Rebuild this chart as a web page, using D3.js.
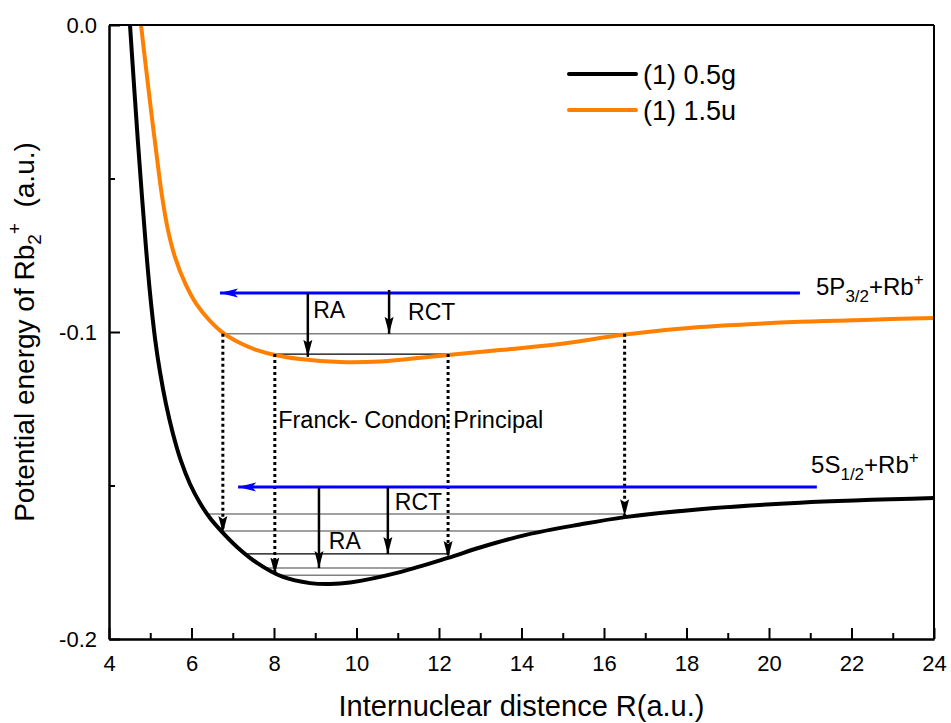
<!DOCTYPE html>
<html>
<head>
<meta charset="utf-8">
<script src="https://cdn.jsdelivr.net/npm/d3@7"></script>
<style>
body{margin:0;background:#fff;}
text{font-family:"Liberation Sans",Arial,sans-serif;fill:#000;}
</style>
</head>
<body>
<div id="container"></div>
<script>
let w = 951;
let h = 723;
let mLeft = 109, mRight = 17, mTop = 25, mBottom = 84;

// (1) 0.5g curve
let blackR = [4.509, 4.606, 4.703, 4.800, 4.897, 4.994, 5.115, 5.236, 5.382, 5.552, 5.745, 5.964, 6.206, 6.448, 6.739, 7.103, 7.588, 8.218, 8.873, 9.358, 9.842, 11.055, 12.218, 12.994, 14.133, 15.418, 16.509, 18.327, 20.752, 24.0];
let blackE = [0, -0.0195, -0.0384, -0.0560, -0.0726, -0.0873, -0.1020, -0.1130, -0.1235, -0.1332, -0.1420, -0.1495, -0.1557, -0.1606, -0.1651, -0.1700, -0.1752, -0.1798, -0.1818, -0.1821, -0.1816, -0.1782, -0.1736, -0.1702, -0.1660, -0.1627, -0.1603, -0.1577, -0.1556, -0.1541];

// (1) 1.5u curve
let orangeR = [4.776, 4.897, 5.018, 5.139, 5.285, 5.430, 5.600, 5.842, 6.133, 6.448, 6.764, 7.176, 7.588, 8.024, 8.630, 9.600, 10.570, 12.218, 13.479, 14.933, 16.509, 18.327, 20.752, 24.0];
let orangeE = [0, -0.0140, -0.0277, -0.0407, -0.0557, -0.0668, -0.0756, -0.0840, -0.0912, -0.0964, -0.1003, -0.1036, -0.1059, -0.1075, -0.1088, -0.1098, -0.1096, -0.1075, -0.1059, -0.1039, -0.1008, -0.0984, -0.0967, -0.0954];

let xTickValues = [4, 6, 8, 10, 12, 14, 16, 18, 20, 22, 24];
let xMinorTicks = [5, 7, 9, 11, 13, 15, 17, 19, 21, 23];
let yTickValues = [0, -0.1, -0.2];
let yMinorTicks = [-0.05, -0.15];

// vibrational levels: energy, from R, to R, dark?
let levelE  = [-0.1006, -0.1072, -0.1593, -0.1648, -0.1723, -0.1769, -0.1792];
let levelR1 = [6.76, 8.02, 6.35, 6.76, 7.30, 7.72, 8.15];
let levelR2 = [16.5, 12.22, 16.5, 14.4, 12.2, 11.4, 10.7];
let levelDark = [false, true, false, false, true, false, false];

// Franck-Condon vertical (dotted) transitions
let fcR  = [6.76, 8.02, 12.22, 16.5];
let fcE1 = [-0.1006, -0.1072, -0.1072, -0.1006];
let fcE2 = [-0.1655, -0.1790, -0.1736, -0.1600];

// asymptote (blue) arrows
let blueE  = [-0.0873, -0.1505];
let blueR1 = [20.75, 21.16];
let blueR2 = [6.69, 7.13];

// RA / RCT arrows
let procName = ["RA", "RCT", "RA", "RCT"];
let procR  = [8.82, 10.79, 9.09, 10.76];
let procE1 = [-0.0873, -0.0863, -0.1505, -0.1505];
let procE2 = [-0.1081, -0.1006, -0.1769, -0.1723];

let legendNames = ["(1) 0.5g", "(1) 1.5u"];
let legendColors = ["#000000", "#ff8000"];

let viz = d3.select("#container")
  .append("svg")
    .attr("width", w)
    .attr("height", h)
;

let xScale = d3.scaleLinear().domain([4, 24]).range([mLeft, w - mRight]);
let yScale = d3.scaleLinear().domain([-0.2, 0]).range([h - mBottom, mTop]);

let defs = viz.append("defs");
defs.append("clipPath").attr("id", "plotclip")
  .append("rect")
    .attr("x", mLeft).attr("y", mTop)
    .attr("width", w - mLeft - mRight).attr("height", h - mTop - mBottom);

defs.append("marker")
    .attr("id", "headBlack")
    .attr("markerUnits", "userSpaceOnUse")
    .attr("viewBox", "0 -5 17 10")
    .attr("refX", 17).attr("refY", 0)
    .attr("markerWidth", 17).attr("markerHeight", 10)
    .attr("orient", "auto")
  .append("path")
    .attr("d", "M0,-4.5L17,0L0,4.5L3,0Z")
    .attr("fill", "#000");
defs.append("marker")
    .attr("id", "headBlue")
    .attr("markerUnits", "userSpaceOnUse")
    .attr("viewBox", "0 -5 18 10")
    .attr("refX", 18).attr("refY", 0)
    .attr("markerWidth", 18).attr("markerHeight", 10)
    .attr("orient", "auto")
  .append("path")
    .attr("d", "M0,-4.5L18,0L0,4.5L4,0Z")
    .attr("fill", "#0000ff");

// levels
let levelGroup = viz.append("g").attr("class", "levels");
levelGroup.selectAll("line").data(levelE).enter()
  .append("line")
    .attr("x1", function(d, i){ return xScale(levelR1[i]); })
    .attr("x2", function(d, i){ return xScale(levelR2[i]); })
    .attr("y1", function(d){ return yScale(d); })
    .attr("y2", function(d){ return yScale(d); })
    .attr("stroke", function(d, i){ return levelDark[i] ? "#000" : "#808080"; })
    .attr("stroke-width", function(d, i){ return levelDark[i] ? 1.2 : 1.5; })
;

// curves
let line = d3.line()
  .x(function(d){ return xScale(d[0]); })
  .y(function(d){ return yScale(d[1]); })
  .curve(d3.curveCatmullRom.alpha(0.5));

let curveGroup = viz.append("g").attr("clip-path", "url(#plotclip)");
curveGroup.append("path")
  .datum(d3.zip(orangeR, orangeE))
  .attr("d", line)
  .attr("fill", "none")
  .attr("stroke", "#ff8000")
  .attr("stroke-width", 4);
curveGroup.append("path")
  .datum(d3.zip(blackR, blackE))
  .attr("d", line)
  .attr("fill", "none")
  .attr("stroke", "#000")
  .attr("stroke-width", 4);

// dotted Franck-Condon arrows
viz.append("g").selectAll("line").data(fcR).enter()
  .append("line")
    .attr("x1", function(d){ return xScale(d); })
    .attr("x2", function(d){ return xScale(d); })
    .attr("y1", function(d, i){ return yScale(fcE1[i]); })
    .attr("y2", function(d, i){ return yScale(fcE2[i]); })
    .attr("stroke", "#000")
    .attr("stroke-width", 3)
    .attr("stroke-dasharray", "3,3")
    .attr("marker-end", "url(#headBlack)")
;

// blue arrows
viz.append("g").selectAll("line").data(blueE).enter()
  .append("line")
    .attr("x1", function(d, i){ return xScale(blueR1[i]); })
    .attr("x2", function(d, i){ return xScale(blueR2[i]); })
    .attr("y1", function(d){ return yScale(d); })
    .attr("y2", function(d){ return yScale(d); })
    .attr("stroke", "#0000ff")
    .attr("stroke-width", 3)
    .attr("marker-end", "url(#headBlue)")
;

// RA / RCT arrows
viz.append("g").selectAll("line").data(procR).enter()
  .append("line")
    .attr("x1", function(d){ return xScale(d); })
    .attr("x2", function(d){ return xScale(d); })
    .attr("y1", function(d, i){ return yScale(procE1[i]); })
    .attr("y2", function(d, i){ return yScale(procE2[i]); })
    .attr("stroke", "#000")
    .attr("stroke-width", 2.5)
    .attr("marker-end", "url(#headBlack)")
;

// axes
let xAxis = d3.axisBottom(xScale).tickValues(xTickValues).tickSizeInner(-11).tickSizeOuter(0).tickPadding(16);
let xAxisGroup = viz.append("g").attr("class", "xaxis")
  .attr("transform", "translate(0," + (h - mBottom) + ")")
  .call(xAxis);
let xMinor = d3.axisBottom(xScale).tickValues(xMinorTicks).tickSizeInner(-6).tickSizeOuter(0).tickFormat("");
viz.append("g")
  .attr("transform", "translate(0," + (h - mBottom) + ")")
  .call(xMinor);

let yAxis = d3.axisLeft(yScale).tickValues(yTickValues).tickSizeInner(-11).tickSizeOuter(0).tickPadding(12)
  .tickFormat(function(d){ return d.toFixed(1); });
let yAxisGroup = viz.append("g").attr("class", "yaxis")
  .attr("transform", "translate(" + mLeft + ",0)")
  .call(yAxis);
let yMinor = d3.axisLeft(yScale).tickValues(yMinorTicks).tickSizeInner(-6).tickSizeOuter(0).tickFormat("");
viz.append("g")
  .attr("transform", "translate(" + mLeft + ",0)")
  .call(yMinor);

viz.selectAll(".xaxis text, .yaxis text")
  .attr("font-size", 22)
  .attr("font-family", "Liberation Sans, Arial, sans-serif")
  .attr("fill", "#000");
viz.selectAll(".domain").attr("stroke-width", 2);
viz.selectAll(".tick line").attr("stroke-width", 2);

// frame top / right
viz.append("line")
  .attr("x1", mLeft).attr("x2", w - mRight)
  .attr("y1", mTop).attr("y2", mTop)
  .attr("stroke", "#000").attr("stroke-width", 2);
viz.append("line")
  .attr("x1", w - mRight).attr("x2", w - mRight)
  .attr("y1", mTop).attr("y2", h - mBottom)
  .attr("stroke", "#000").attr("stroke-width", 2);

// axis titles
viz.append("text")
  .attr("x", (mLeft + w - mRight) / 2)
  .attr("y", 716)
  .attr("text-anchor", "middle")
  .attr("font-size", 29)
  .text("Internuclear distence R(a.u.)");

let yTitle = viz.append("text")
  .attr("transform", "translate(34,332) rotate(-90)")
  .attr("text-anchor", "middle")
  .attr("font-size", 28);
yTitle.append("tspan").text("Potential energy of Rb");
yTitle.append("tspan").attr("font-size", 19).attr("dy", 7).text("2");
yTitle.append("tspan").attr("font-size", 19).attr("dy", -20).text("+");
yTitle.append("tspan").attr("dy", 13).text("\u00a0\u00a0(a.u.)");

// legend
let legend = viz.append("g").attr("class", "legend");
legendNames.forEach(function(name, i){
  let ly = 74 + i * 36;
  legend.append("line")
    .attr("x1", 569).attr("x2", 636)
    .attr("y1", ly).attr("y2", ly)
    .attr("stroke", legendColors[i])
    .attr("stroke-width", 4)
    .attr("stroke-linecap", "round");
  legend.append("text")
    .attr("x", 643).attr("y", ly + 10)
    .attr("font-size", 27)
    .text(name);
});

// annotations
function addLabel(r, e, txt, size){
  return viz.append("text")
    .attr("x", xScale(r)).attr("y", yScale(e))
    .attr("font-size", size)
    .text(txt);
}
addLabel(8.95, -0.0954, "RA", 23);
addLabel(11.25, -0.0961, "RCT", 23);
addLabel(10.93, -0.1580, "RCT", 23);
addLabel(9.33, -0.1707, "RA", 23);
addLabel(8.1, -0.1313, "Franck- Condon Principal", 23.5);

let lab1 = viz.append("text")
  .attr("x", xScale(21.14)).attr("y", yScale(-0.0879))
  .attr("font-size", 24);
lab1.append("tspan").text("5P");
lab1.append("tspan").attr("font-size", 17).attr("dy", 7).text("3/2");
lab1.append("tspan").attr("dy", -7).text("+Rb");
lab1.append("tspan").attr("font-size", 17).attr("dy", -10).text("+");

let lab2 = viz.append("text")
  .attr("x", xScale(21.02)).attr("y", yScale(-0.1459))
  .attr("font-size", 24);
lab2.append("tspan").text("5S");
lab2.append("tspan").attr("font-size", 17).attr("dy", 7).text("1/2");
lab2.append("tspan").attr("dy", -7).text("+Rb");
lab2.append("tspan").attr("font-size", 17).attr("dy", -10).text("+");
</script>
</body>
</html>
